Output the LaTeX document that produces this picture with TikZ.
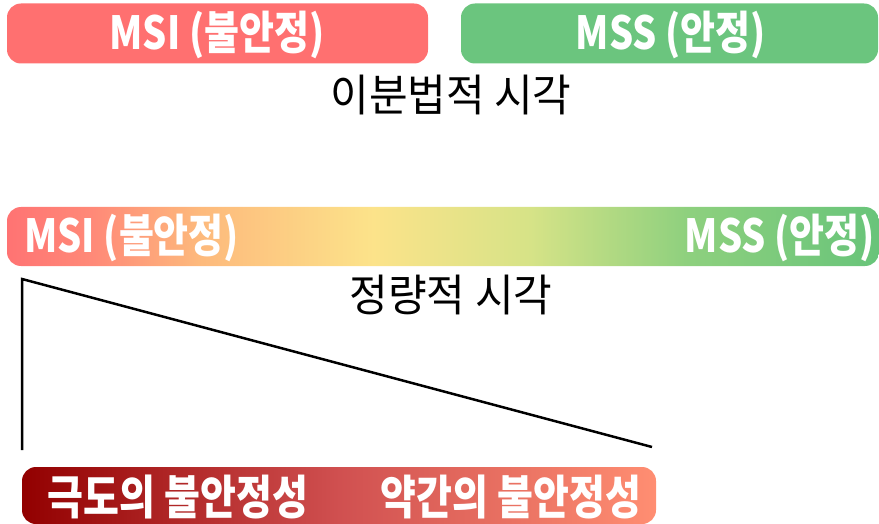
\documentclass[tikz,border=0pt]{standalone}
\usepackage{fontspec}
\newfontfamily\kr{Noto Sans CJK KR}
\newcommand{\talltxt}[1]{\scalebox{1}[1.2]{#1}}
\definecolor{topred}{HTML}{FF7070}
\definecolor{topgreen}{HTML}{6BC57E}
\definecolor{q0}{HTML}{FF7373}
\definecolor{q1}{HTML}{FF8A78}
\definecolor{q2}{HTML}{FDB97C}
\definecolor{q3}{HTML}{FCE38A}
\definecolor{q4}{HTML}{D6E387}
\definecolor{q5}{HTML}{8ED07E}
\definecolor{q6}{HTML}{68C47A}
\definecolor{b0}{HTML}{920000}
\definecolor{b1}{HTML}{D05050}
\definecolor{b2}{HTML}{FF8E72}
\pgfdeclarehorizontalshading{quant}{100bp}{color(0bp)=(q0); color(25bp)=(q0); color(30bp)=(q1); color(36bp)=(q2); color(46bp)=(q3); color(55bp)=(q4); color(64bp)=(q5); color(75bp)=(q6); color(100bp)=(q6)}
\pgfdeclarehorizontalshading{instab}{100bp}{color(0bp)=(b0); color(25bp)=(b0); color(50bp)=(b1); color(75bp)=(b2); color(100bp)=(b2)}
\tikzset{
  bar/.style={rectangle, rounded corners=14pt, inner sep=0pt, draw=none},
  boxtxt/.style={font=\kr\bfseries\fontsize{38}{38}\selectfont, text=white, inner sep=0pt},
  lowtxt/.style={font=\kr\bfseries\fontsize{39}{39}\selectfont, text=white, inner sep=0pt},
  title/.style={font=\kr\fontsize{42}{42}\selectfont, text=black, inner sep=0pt},
  tri/.style={line width=2.5pt, draw=black}
}
\begin{document}
\begin{tikzpicture}[x=1pt,y=-1pt]
\useasboundingbox (0,0) rectangle (879,524);
% top dichotomous boxes
\node[bar, fill=topred, minimum width=421pt, minimum height=60pt] (msiTop) at (217.5,33.5) {};
\node[bar, fill=topgreen, minimum width=417pt, minimum height=60pt] (mssTop) at (669.5,33.5) {};
\node[boxtxt] (msiTopT) at (217,35) {\talltxt{MSI (불안정)}};
\node[boxtxt] (mssTopT) at (671,35) {\talltxt{MSS (안정)}};
\node[title] (dich) at (451,95) {\scalebox{1}[1.05]{이분법적 시각}};
% quantitative bar
\node[bar, shading=quant, minimum width=872pt, minimum height=59pt] (quantBar) at (443,236.5) {};
\node[boxtxt, anchor=west] (msiQ) at (24,238) {\talltxt{MSI (불안정)}};
\node[boxtxt, anchor=east] (mssQ) at (875,238) {\talltxt{MSS (안정)}};
\node[title] (quant) at (451,295) {\scalebox{1}[1.05]{정량적 시각}};
% triangle
\coordinate (tTop) at (22,279);
\coordinate (tBot) at (22,450);
\coordinate (tEnd) at (652,447);
\draw[tri] (tBot) -- (tTop) -- (tEnd);
% bottom instability bar
\node[bar, shading=instab, minimum width=634pt, minimum height=57pt] (instBar) at (339,495.5) {};
\node[lowtxt] (extreme) at (178,497) {\talltxt{극도의 불안정성}};
\node[lowtxt] (slight) at (511,497) {\talltxt{약간의 불안정성}};
\end{tikzpicture}
\end{document}
